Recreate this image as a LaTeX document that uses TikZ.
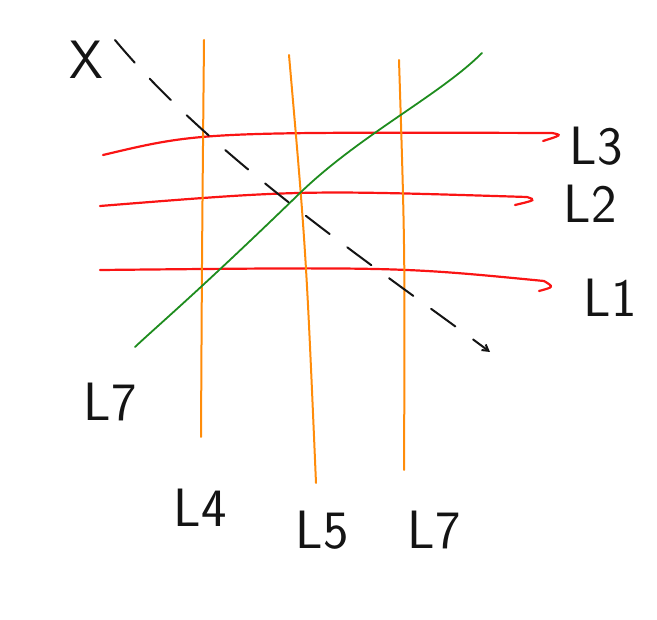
\documentclass[tikz,border=0pt]{standalone}
\usepackage{tikz}
\usetikzlibrary{positioning,calc,arrows.meta}
\definecolor{SketchRed}{RGB}{250,20,20}
\definecolor{SketchOrange}{RGB}{255,140,10}
\definecolor{SketchGreen}{RGB}{30,140,30}
\definecolor{SketchInk}{RGB}{20,20,20}

\begin{document}
\begin{tikzpicture}[%
      x=1pt, y=-1pt,
      redline/.style={draw=SketchRed, line width=2.2pt, line cap=round},
      orangeline/.style={draw=SketchOrange, line width=2pt, line cap=round},
      greenline/.style={draw=SketchGreen, line width=1.8pt, line cap=round},
      inkpath/.style={draw=SketchInk, line width=2pt, line cap=round, dash pattern=on 30pt off 22pt, -{Straight Barb[length=6pt,width=7pt]}},
      hand/.style={font=\sffamily\fontsize{54}{54}\selectfont, text=SketchInk, inner sep=2pt}
    ]
      \useasboundingbox (0,0) rectangle (657,620);

      % Labels
      \node[hand] (cross) at (86,60) {X};
      \node[hand] (lthree) at (596,146) {L3};
      \node[hand] (ltwo) at (590,204) {L2};
      \node[hand] (lone) at (610,298) {L1};
      \node[hand] (lseven) at (110,402) {L7};
      \node[hand] (lfour) at (200,508) {L4};
      \node[hand] (lfive) at (322,530) {L5};
      \node[hand] (lsix) at (434,530) {L7};

      % Line ends
      \coordinate (r3s) at (103,155);
      \coordinate (r3h) at (543,141);
      \coordinate (r2s) at (100,206);
      \coordinate (r2h) at (515,205);
      \coordinate (r1s) at (100,270);
      \coordinate (r1h) at (539,291);
      \coordinate (o4t) at (204,40);
      \coordinate (o4b) at (201,437);
      \coordinate (o5t) at (289,55);
      \coordinate (o5b) at (316,483);
      \coordinate (o7t) at (399,60);
      \coordinate (o7b) at (404,470);
      \coordinate (gbot) at (135,347);
      \coordinate (gtop) at (482,53);
      \coordinate (xstart) at (115,40);
      \coordinate (xend) at (490,352);

      % Red lines
      \draw[redline] (r3s) .. controls (200,132) .. (552,133) .. controls (562,135) .. (r3h);
      \draw[redline] (r2s) .. controls (300,190) .. (527,197) .. controls (536,200) .. (r2h);
      \draw[redline] (r1s) .. controls (400,267) .. (544,281) .. controls (554,287) .. (r1h);

      % Orange lines
      \draw[orangeline] (o4t) .. controls (202,250) .. (o4b);
      \draw[orangeline] (o5t) .. controls (306,250) .. (o5b);
      \draw[orangeline] (o7t) .. controls (405,250) .. (o7b);

      % Green line
      \draw[greenline] (gbot) .. controls (155,328) and (200,290) .. (300,193) .. controls (360,135) and (440,95) .. (gtop);

      % Dashed path
      \draw[inkpath] (xstart) .. controls (215,160) and (380,270) .. (xend);
    \end{tikzpicture}
\end{document}
